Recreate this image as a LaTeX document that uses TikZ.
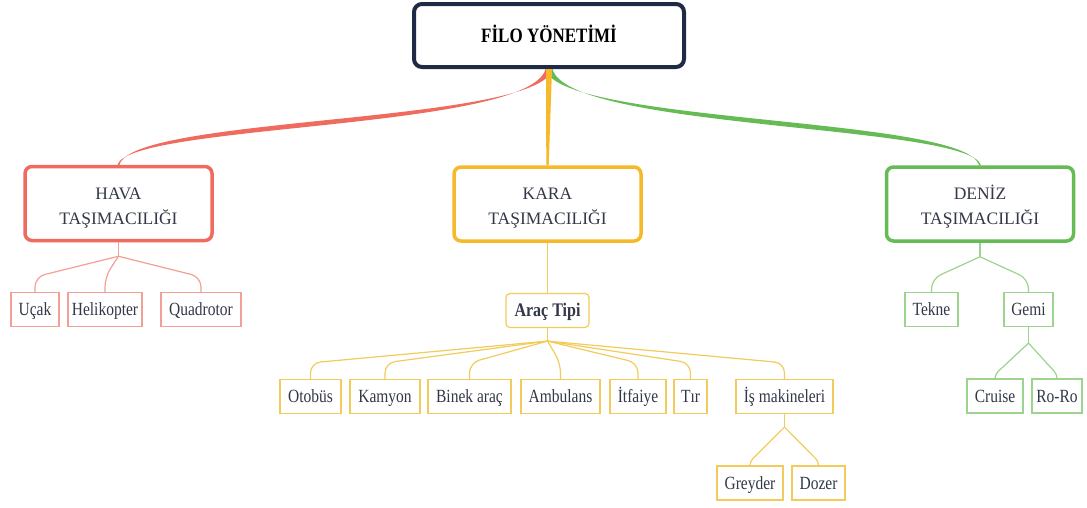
\documentclass[tikz,border=0pt]{standalone}
\usepackage{fontspec}
\usepackage{graphicx}
\setmainfont{Liberation Serif}
\usetikzlibrary{calc}
\definecolor{navy}{HTML}{1F2A44}
\definecolor{redc}{HTML}{EE6B5D}
\definecolor{yelc}{HTML}{F6B92B}
\definecolor{grnc}{HTML}{66BB55}
\definecolor{redl}{HTML}{F2A096}
\definecolor{yell}{HTML}{F2CB5A}
\definecolor{grnl}{HTML}{9CD38F}
\definecolor{textc}{HTML}{333849}
\newcommand{\vs}[1]{\scalebox{1}[1.2]{#1}}
\newcommand{\topstrut}{\rule{0pt}{20pt}}
\tikzset{
  rootbox/.style={draw=navy, line width=4pt, rounded corners=8pt, fill=white,
    minimum width=270pt, minimum height=63pt, text=black,
    text height=13.5pt, text depth=0pt,
    font=\fontsize{17}{20}\selectfont\bfseries},
  lvlbox/.style={line width=3.5pt, rounded corners=7pt, fill=white,
    minimum width=187pt, minimum height=74pt, align=center, text=textc,
    font=\fontsize{17.5}{25}\selectfont},
  childbox/.style={line width=1.2pt, fill=white, minimum height=34pt,
    inner xsep=2pt, text=textc, text height=12.3pt, text depth=0pt,
    font=\fontsize{15.5}{16}\selectfont},
  hbox/.style={childbox, draw=redl},
  kbox/.style={childbox, draw=yell},
  dbox/.style={childbox, draw=grnl},
  hl/.style={draw=redl, line width=1.2pt},
  kl/.style={draw=yell, line width=1.2pt},
  dl/.style={draw=grnl, line width=1.2pt},
}
\begin{document}
\begin{tikzpicture}[x=1pt,y=-1pt]
\useasboundingbox (0,0) rectangle (1087,507);

% main nodes
\node[rootbox] (root) at (549,35.5) {\vs{FİLO YÖNETİMİ}};
\node[lvlbox, draw=redc] (hava) at (118.5,203.5) {\topstrut HAVA\\TAŞIMACILIĞI};
\node[lvlbox, draw=yelc] (kara) at (547.5,204) {\topstrut KARA\\TAŞIMACILIĞI};
\node[lvlbox, draw=grnc] (deniz) at (980,204) {\topstrut DENİZ\\TAŞIMACILIĞI};

% tapered main connectors
\fill[redc] ($(root.south)+(-3.5,0)$) .. controls ($(root.south)+(-19,61)$) and ($(hava.north)+(11,-41)$) .. ($(hava.north)+(-1,0)$)
  -- ($(hava.north)+(1,0)$) .. controls ($(hava.north)+(13.5,-49)$) and ($(root.south)+(-9,55)$) .. ($(root.south)+(3.5,0)$) -- cycle;
\fill[grnc] ($(root.south)+(3.5,0)$) .. controls ($(root.south)+(19,61)$) and ($(deniz.north)+(-11,-41)$) .. ($(deniz.north)+(1,0)$)
  -- ($(deniz.north)+(-1,0)$) .. controls ($(deniz.north)+(-13.5,-49)$) and ($(root.south)+(9,55)$) .. ($(root.south)+(-3.5,0)$) -- cycle;
\fill[yelc] ($(root.south)+(-3,0)$) -- ($(root.south)+(3,0)$) -- ($(kara.north)+(1.2,0)$) -- ($(kara.north)+(-1.2,0)$) -- cycle;

% Hava children
\node[hbox, minimum width=48pt] (ucak) at (35,309.5) {\vs{Uçak}};
\node[hbox, minimum width=74pt] (heli) at (105,309.5) {\vs{Helikopter}};
\node[hbox, minimum width=80pt] (quad) at (201,309.5) {\vs{Quadrotor}};
\draw[hl] (hava.south) -- ++(0,14) coordinate (hj);
\draw[hl, rounded corners=10pt] (hj) -- ($(ucak.north)+(0,-15)$) -- (ucak.north);
\draw[hl, rounded corners=10pt] (hj) -- ($(heli.north)+(0,-15)$) -- (heli.north);
\draw[hl, rounded corners=10pt] (hj) -- ($(quad.north)+(0,-15)$) -- (quad.north);

% Kara children
\node[kbox, rounded corners=4pt, minimum width=83pt, font=\fontsize{16}{16}\selectfont\bfseries] (arac) at (547.5,310.5) {\vs{Araç Tipi}};
\draw[kl] (kara.south) -- (arac.north);
\draw[kl] (arac.south) -- ++(0,13) coordinate (kj);
\node[kbox, minimum width=61pt] (otobus) at (310.5,396.5) {\vs{Otobüs}};
\node[kbox, minimum width=70pt] (kamyon) at (385,396.5) {\vs{Kamyon}};
\node[kbox, minimum width=83pt] (binek) at (469.5,396.5) {\vs{Binek araç}};
\node[kbox, minimum width=79pt] (ambul) at (560.5,396.5) {\vs{Ambulans}};
\node[kbox, minimum width=56pt] (itfaiye) at (638,396.5) {\vs{İtfaiye}};
\node[kbox, minimum width=33pt] (tir) at (690.5,396.5) {\vs{Tır}};
\node[kbox, minimum width=97pt] (ismak) at (784.5,396.5) {\vs{İş makineleri}};
\foreach \c in {otobus,kamyon,binek,ambul,itfaiye,tir,ismak}
  \draw[kl, rounded corners=10pt] (kj) -- ($(\c.north)+(0,-16)$) -- (\c.north);

\node[kbox, minimum width=66pt] (greyder) at (750,483) {\vs{Greyder}};
\node[kbox, minimum width=53pt] (dozer) at (818.5,483) {\vs{Dozer}};
\draw[kl] (ismak.south) -- ++(0,13) coordinate (ij);
\draw[kl, rounded corners=4pt] (ij) -- ($(greyder.north)+(0,-4)$) -- (greyder.north);
\draw[kl, rounded corners=4pt] (ij) -- ($(dozer.north)+(0,-4)$) -- (dozer.north);

% Deniz children
\node[dbox, minimum width=53pt] (tekne) at (931.5,309.5) {\vs{Tekne}};
\node[dbox, minimum width=49pt] (gemi) at (1028.5,309.5) {\vs{Gemi}};
\draw[dl] (deniz.south) -- ++(0,14) coordinate (dj);
\draw[dl, rounded corners=10pt] (dj) -- ($(tekne.north)+(0,-13)$) -- (tekne.north);
\draw[dl, rounded corners=10pt] (dj) -- ($(gemi.north)+(0,-13)$) -- (gemi.north);

\node[dbox, minimum width=56pt] (cruise) at (995,396) {\vs{Cruise}};
\node[dbox, minimum width=50pt] (roro) at (1057,396) {\vs{Ro-Ro}};
\draw[dl] (gemi.south) -- ++(0,16) coordinate (gj);
\draw[dl, rounded corners=4pt] (gj) -- ($(cruise.north)+(0,-4)$) -- (cruise.north);
\draw[dl, rounded corners=4pt] (gj) -- ($(roro.north)+(0,-4)$) -- (roro.north);
\end{tikzpicture}
\end{document}
